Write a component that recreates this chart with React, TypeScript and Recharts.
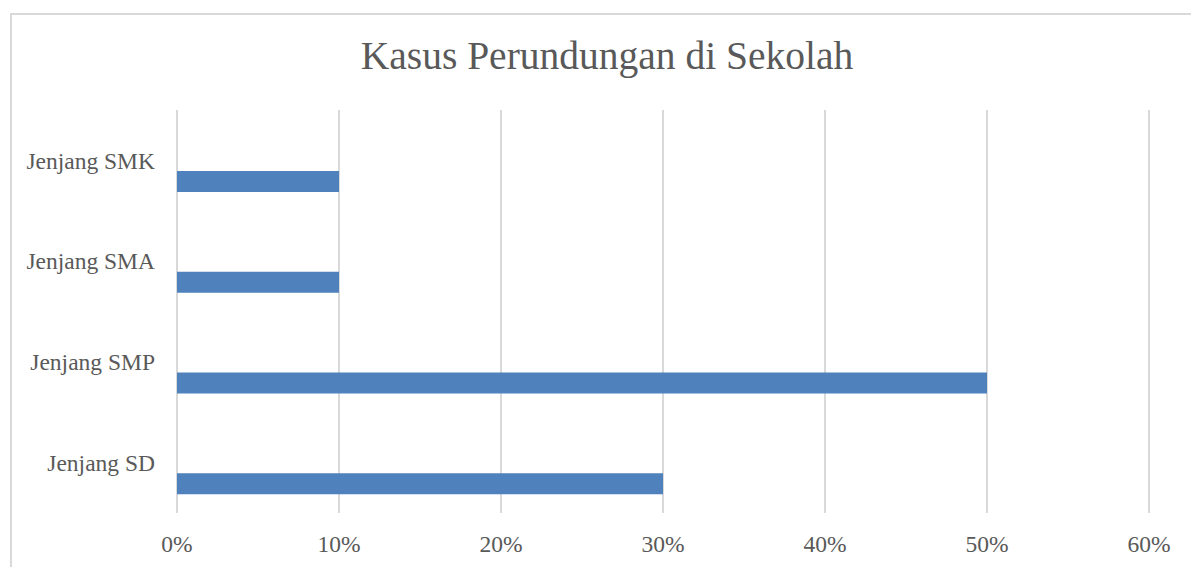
import React from 'react';
import { BarChart, Bar, XAxis, YAxis, CartesianGrid } from 'recharts';

const categories = ['Jenjang SD', 'Jenjang SMP', 'Jenjang SMA', 'Jenjang SMK'];
const values = [0.3, 0.5, 0.1, 0.1];
const xTicks = [0, 0.1, 0.2, 0.3, 0.4, 0.5, 0.6];

// Excel draws the last category on top, so flip the order for recharts
const data = categories
  .map((name, i) => ({ name, empty1: null, empty2: null, value: values[i] }))
  .reverse();

const font = '"Liberation Serif", serif';
const textColor = '#595959';

export default function App() {
  return (
    <div style={{ position: 'fixed', left: 0, top: 0, width: 1191, height: 567, background: '#fff', overflow: 'hidden' }}>
      <div
        style={{
          position: 'absolute', left: 10, top: 13, width: 1200, height: 600,
          border: '2px solid #d9d9d9', boxSizing: 'border-box',
        }}
      />
      <div
        style={{
          position: 'absolute', left: 0, top: 32, width: 1214, textAlign: 'center',
          fontFamily: font, fontSize: 39.5, color: textColor, lineHeight: '48px',
        }}
      >
        Kasus Perundungan di Sekolah
      </div>
      <div style={{ position: 'absolute', left: 0, top: 0 }}>
        <BarChart
          width={1191}
          height={567}
          data={data}
          layout="vertical"
          margin={{ top: 110, right: 42, bottom: 14, left: 0 }}
          barCategoryGap={19}
          barGap={0}
        >
          <CartesianGrid horizontal={false} stroke="#d9d9d9" strokeWidth={2} />
          <XAxis
            type="number"
            domain={[0, 0.6]}
            ticks={xTicks}
            tickFormatter={(v: number) => `${Math.round(v * 100)}%`}
            axisLine={false}
            tickLine={false}
            height={40}
            tickMargin={16}
            tick={{ fontFamily: font, fontSize: 23.5, fill: textColor }}
            interval={0}
          />
          <YAxis
            type="category"
            dataKey="name"
            width={177}
            axisLine={false}
            tickLine={false}
            tickMargin={16}
            tick={{ fontFamily: font, fontSize: 23.5, fill: textColor }}
          />
          <Bar dataKey="empty1" fill="#4f81bd" isAnimationActive={false} />
          <Bar dataKey="empty2" fill="#4f81bd" isAnimationActive={false} />
          <Bar dataKey="value" fill="#4f81bd" isAnimationActive={false} />
        </BarChart>
      </div>
    </div>
  );
}
